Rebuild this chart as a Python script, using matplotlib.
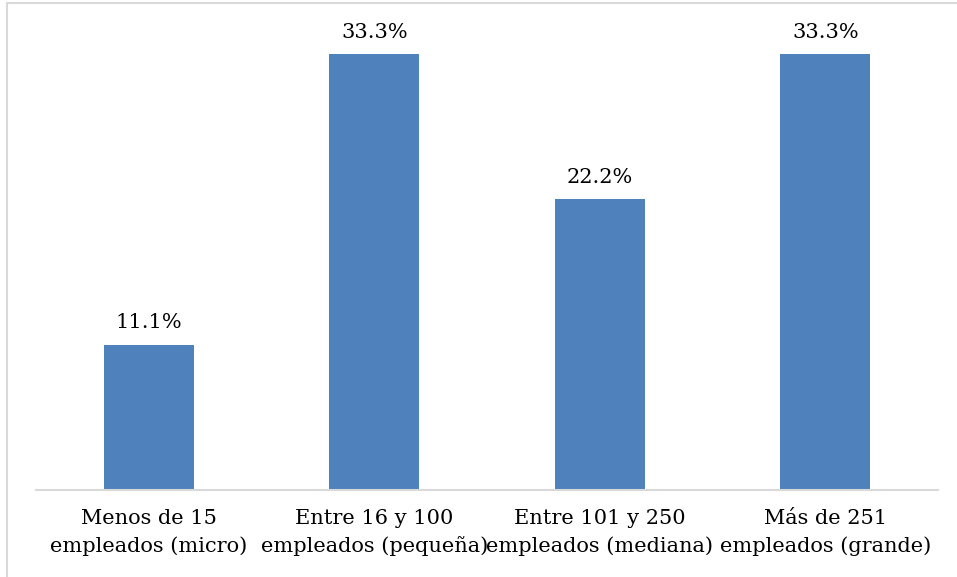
import matplotlib.pyplot as plt
from matplotlib.patches import Rectangle

# ---------------- Data ----------------
categories = ["Menos de 15\nempleados (micro)",
              "Entre 16 y 100\nempleados (pequeña)",
              "Entre 101 y 250\nempleados (mediana)",
              "Más de 251\nempleados (grande)"]
values = [11.1, 33.3, 22.2, 33.3]
value_labels = ["11.1%", "33.3%", "22.2%", "33.3%"]

plt.rcParams['font.family'] = ['DejaVu Serif']

W, H = 957, 577
fig = plt.figure(figsize=(W / 100, H / 100), dpi=100)

# chart frame (light gray border)
fig.patches.append(Rectangle((7 / W, -0.05), 1.1, 1 - 3 / H + 0.05,
                             transform=fig.transFigure, fill=False,
                             edgecolor="#d9d9d9", linewidth=1.5))

ax = fig.add_axes([36 / W, 1 - 490 / H, (938 - 36) / W, (490 - 32) / H])

x = range(len(categories))
bars = ax.bar(x, values, width=0.4, color="#4f81bd")

for b, lab in zip(bars, value_labels):
    ax.annotate(lab, (b.get_x() + b.get_width() / 2, b.get_height()),
                xytext=(0, 9), textcoords="offset points",
                ha="center", va="bottom", fontsize=15, color="black")

ax.set_xlim(-0.5, 3.5)
ax.set_ylim(0, 35)
ax.set_xticks(list(x))
ax.set_xticklabels(categories, fontsize=15, linespacing=1.5)
ax.tick_params(axis="x", length=0, pad=14)
ax.set_yticks([])

for s in ["top", "right", "left"]:
    ax.spines[s].set_visible(False)
ax.spines["bottom"].set_color("#d9d9d9")
ax.spines["bottom"].set_linewidth(1.5)

fig.savefig("out.png", dpi=100)
